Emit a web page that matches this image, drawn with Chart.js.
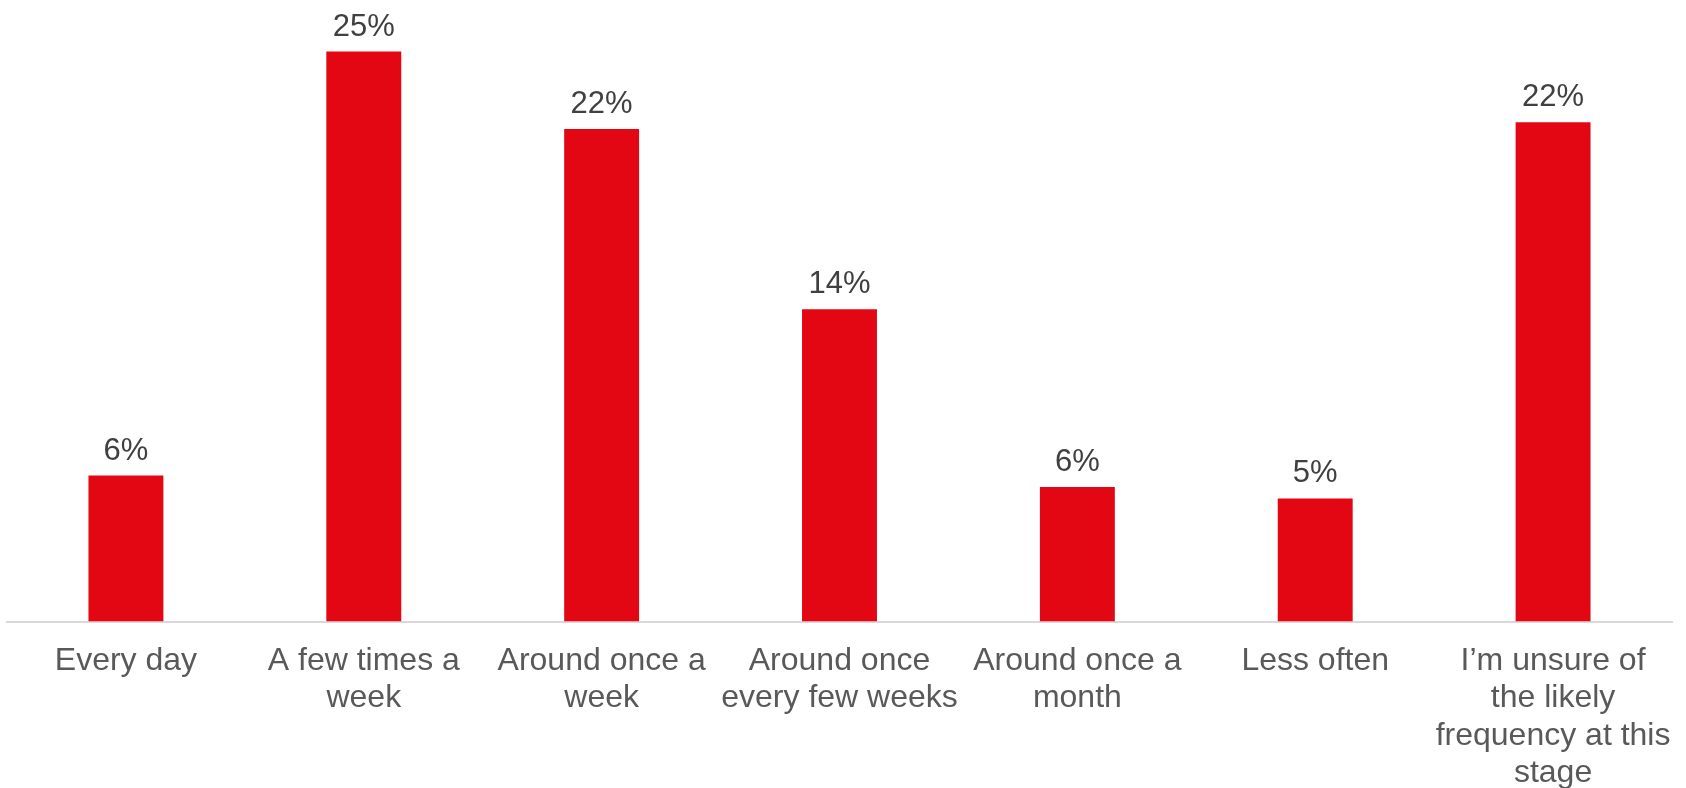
<!DOCTYPE html>
<html>
<head>
<meta charset="utf-8">
<script src="https://cdn.jsdelivr.net/npm/chart.js@4.4.0/dist/chart.umd.min.js"></script>
<style>
html,body{margin:0;padding:0;background:#fff;}
#wrap{width:1686px;height:788px;}
</style>
</head>
<body>
<div id="wrap"><canvas id="c" width="1686" height="788"></canvas></div>
<script>
const categories = [
  "Every day",
  ["A few times a", "week"],
  ["Around once a", "week"],
  ["Around once", "every few weeks"],
  ["Around once a", "month"],
  "Less often",
  ["I\u2019m unsure of", "the likely", "frequency at this", "stage"]
];
const values = [6.4, 25.0, 21.6, 13.7, 5.9, 5.4, 21.9];
const yMax = 27;

const valueLabels = {
  id: 'valueLabels',
  afterDatasetsDraw(chart) {
    const ctx = chart.ctx;
    const meta = chart.getDatasetMeta(0);
    ctx.save();
    ctx.font = '31px "Liberation Sans", Arial, sans-serif';
    ctx.fillStyle = '#404040';
    ctx.textAlign = 'center';
    ctx.textBaseline = 'alphabetic';
    meta.data.forEach((bar, i) => {
      ctx.fillText(Math.round(values[i]) + '%', bar.x, bar.y - 16);
    });
    ctx.restore();
  }
};

new Chart(document.getElementById('c'), {
  type: 'bar',
  data: {
    labels: categories,
    datasets: [{
      data: values,
      backgroundColor: '#e30613',
      borderWidth: 0,
      categoryPercentage: 1,
      barPercentage: 0.315
    }]
  },
  options: {
    responsive: false,
    animation: false,
    layout: { padding: { left: 7, right: 14, top: 6, bottom: 0 } },
    plugins: { legend: { display: false }, tooltip: { enabled: false } },
    scales: {
      x: {
        grid: { display: false },
        border: { display: true, color: '#d9d9d9', width: 2 },
        ticks: {
          color: '#595959',
          font: { family: '"Liberation Sans", Arial, sans-serif', size: 32, lineHeight: 1.17 },
          padding: 13,
          maxRotation: 0,
          autoSkip: false
        },
        afterFit(scale) { scale.height = 166.5; }
      },
      y: {
        display: false,
        min: 0,
        max: yMax
      }
    }
  },
  plugins: [valueLabels]
});
</script>
</body>
</html>
